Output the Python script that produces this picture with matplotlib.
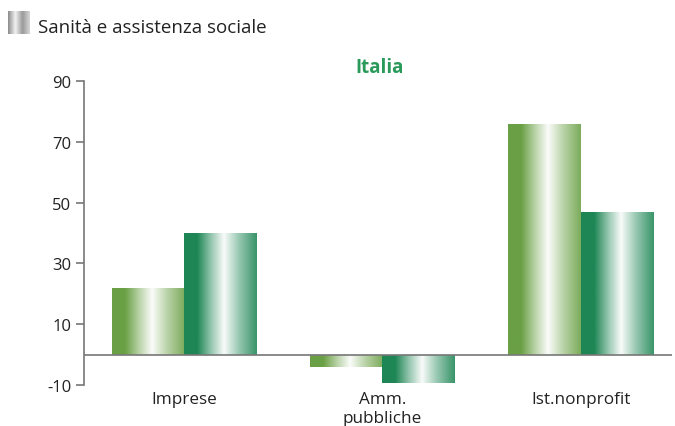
import numpy as np
import matplotlib
matplotlib.use("Agg")
import matplotlib.pyplot as plt
from matplotlib.colors import LinearSegmentedColormap, to_rgb
from matplotlib.patches import Rectangle

categories = ["Imprese", "Amm.\npubbliche", "Ist.nonprofit"]
series_a = [22, -4, 76]
series_b = [40, -9.5, 47]
yticks = [-10, 10, 30, 50, 70, 90]
title = "Italia"
header = "Sanità e assistenza sociale"

plt.rcParams['font.family'] = ['Open Sans', 'DejaVu Sans']

fig = plt.figure(figsize=(6.75, 4.27), dpi=100)
W, H = 675, 427
ax = fig.add_axes([84 / W, (H - 386) / H, (672 - 84) / W, (386 - 82) / H])

def mix(c, t):
    c = np.array(to_rgb(c))
    return tuple(c + (1 - c) * t)

def make_cmap(c):
    stops = [(0.0, mix(c, 0)), (0.18, mix(c, 0)), (0.38, mix(c, 0.55)),
             (0.55, mix(c, 0.97)), (0.75, mix(c, 0.55)), (1.0, mix(c, 0.12))]
    return LinearSegmentedColormap.from_list("g", stops)

colors = ["#6AA045", "#1E8655"]
cmaps = [make_cmap(c) for c in colors]
width = 0.365
x = np.arange(len(categories))
grad = np.linspace(0, 1, 256).reshape(1, -1)

for si, vals in enumerate([series_a, series_b]):
    for xi, v in zip(x, vals):
        left = xi - width + si * width
        y0, y1 = min(0, v), max(0, v)
        rect = Rectangle((left, y0), width, y1 - y0, facecolor="none", edgecolor="none")
        ax.add_patch(rect)
        im = ax.imshow(grad, cmap=cmaps[si], aspect="auto",
                       extent=(left, left + width, y0, y1), zorder=2)
        im.set_clip_path(rect)

ax.set_xlim(-0.505, 2.46)
ax.set_ylim(-10, 90)
ax.axhline(0, color="#777777", lw=1.2, zorder=3)
for s in ["top", "right", "bottom"]:
    ax.spines[s].set_visible(False)
ax.spines["left"].set_color("#777777")
ax.spines["left"].set_linewidth(1.2)
ax.set_yticks(yticks)
ax.set_yticklabels([str(t) for t in yticks], fontsize=12, color="#222222")
ax.tick_params(axis="y", length=6, color="#777777", width=1.2, pad=3)
ax.set_xticks(x)
ax.set_xticklabels(categories, fontsize=12.3, color="#222222", linespacing=1.2)
ax.tick_params(axis="x", length=0, pad=4.5)

fig.text(380 / W, 1 - 68 / H, title, fontsize=13.5, fontweight="bold",
          color="#2A9A5A", ha="center", va="center")

hax = fig.add_axes([8 / W, 1 - 35 / H, 22 / W, 23 / H])
gray = LinearSegmentedColormap.from_list("gr", ["#8a8a8a", "#f2f2f2", "#9a9a9a", "#d8d8d8"])
hax.imshow(grad, cmap=gray, aspect="auto")
hax.axis("off")
fig.text(38 / W, 1 - 28 / H, header, fontsize=13.5, color="#222222", va="center", ha="left")

fig.savefig("out.png", dpi=100)
